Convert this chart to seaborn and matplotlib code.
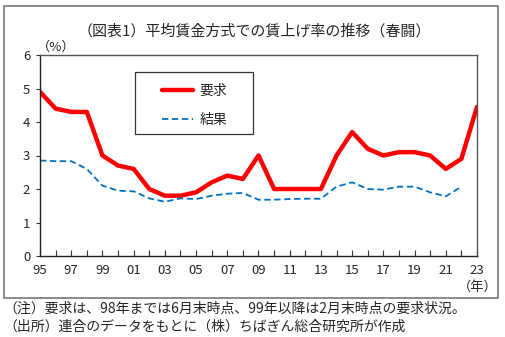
import matplotlib
matplotlib.use("Agg")
import matplotlib.pyplot as plt
import seaborn as sns
import pandas as pd
import numpy as np
from matplotlib.patches import Rectangle

sns.set_theme(style="white")
plt.rcParams['font.family'] = ['Noto Sans CJK JP', 'DejaVu Sans']

years = list(range(1995, 2024))
demand = [4.9, 4.4, 4.3, 4.3, 3.0, 2.7, 2.6, 2.0, 1.8, 1.8, 1.9, 2.2, 2.4, 2.3, 3.0,
          2.0, 2.0, 2.0, 2.0, 3.0, 3.7, 3.2, 3.0, 3.1, 3.1, 3.0, 2.6, 2.9, 4.45]
result = [2.85, 2.83, 2.83, 2.6, 2.1, 1.95, 1.93, 1.72, 1.62, 1.72, 1.7, 1.8, 1.86, 1.88, 1.68,
          1.68, 1.7, 1.71, 1.71, 2.07, 2.2, 2.0, 1.98, 2.07, 2.07, 1.9, 1.78, 2.07, np.nan]
xlabels = ["95", "97", "99", "01", "03", "05", "07", "09", "11", "13", "15", "17", "19", "21", "23"]

df = pd.DataFrame({"year": years, "要求": demand, "結果": result})

W, H = 505, 337
fig = plt.figure(figsize=(W/100, H/100), dpi=100)
ax = fig.add_axes([40/W, 1-256/H, (477-40)/W, (256-55)/H])

sns.lineplot(data=df, x="year", y="要求", ax=ax, color="#FF0000", linewidth=3.2, label="要求")
sns.lineplot(data=df, x="year", y="結果", ax=ax, color="#0070C0", linewidth=1.3,
             linestyle=(0, (3.5, 2)), label="結果")

ax.set_xlim(1995, 2023)
ax.set_ylim(0, 6)
ax.set_xticks(list(range(1995, 2024, 2)))
ax.set_xticklabels(xlabels)
ax.set_xticks(list(range(1995, 2024)), minor=True)
ax.set_yticks(range(0, 7))
ax.set_xlabel("")
ax.set_ylabel("")
ax.tick_params(axis="x", which="both", direction="in", length=4, width=0.8, color="#333333",
               labelsize=9.5, pad=6, bottom=True)
ax.tick_params(axis="y", direction="out", length=3, width=0.8, color="#333333", labelsize=9.5, pad=4, left=True)
for s in ax.spines.values():
    s.set_color("#555555")
    s.set_linewidth(1.0)
ax.spines["left"].set_color("#222222")
ax.spines["bottom"].set_color("#222222")

# legend box frame
ax.add_patch(Rectangle((135/W, 1-134/H), (253-135)/W, (134-72)/H, transform=fig.transFigure,
                       facecolor="white", edgecolor="#333333", linewidth=0.9, zorder=3, clip_on=False))
leg = ax.legend(loc="upper left", bbox_to_anchor=(162/W, 1-84/H), bbox_transform=fig.transFigure,
                frameon=False, fontsize=10, handlelength=2.2, borderpad=0, labelspacing=1.05,
                handletextpad=0.5, borderaxespad=0)
leg.set_zorder(5)

# outer frame
fig.patches.append(Rectangle((4/W, 1-298/H), 494/W, 292/H, transform=fig.transFigure,
                             fill=False, edgecolor="#777777", linewidth=1.2))

fig.text(254/W, 1-31/H, "（図表1）平均賃金方式での賃上げ率の推移（春闘）", ha="center", va="center", fontsize=10.8)
fig.text(56/W, 1-47/H, "（%）", ha="center", va="center", fontsize=9.5)
fig.text(478/W, 1-287/H, "（年）", ha="center", va="center", fontsize=9.5)
fig.text(3/W, 1-309/H, "（注）要求は、98年までは6月末時点、99年以降は2月末時点の要求状況。", ha="left", va="center", fontsize=10)
fig.text(3/W, 1-327/H, "（出所）連合のデータをもとに（株）ちばぎん総合研究所が作成", ha="left", va="center", fontsize=10)

fig.savefig("out.png", dpi=100)
